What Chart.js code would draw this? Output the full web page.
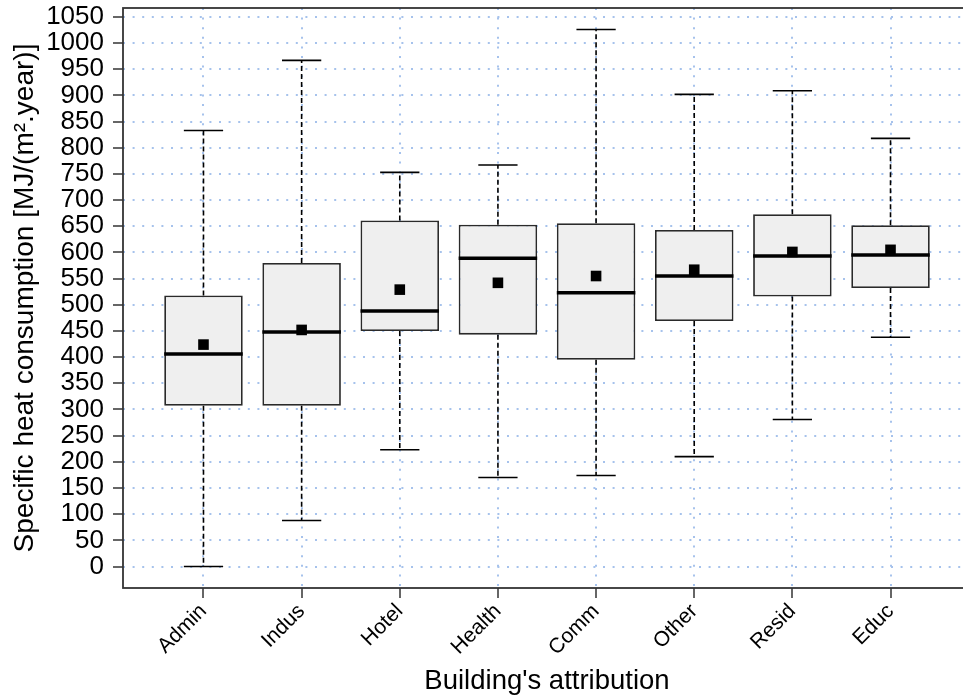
<!DOCTYPE html>
<html>
<head>
<meta charset="utf-8">
<script src="https://cdn.jsdelivr.net/npm/chart.js@4"></script>
<style>
  html, body { margin: 0; padding: 0; background: #fff; overflow: hidden; }
  #wrap { width: 980px; height: 700px; }
</style>
</head>
<body>
<div id="wrap"><canvas id="boxChart" width="980" height="700"></canvas></div>
<script>
// values
const categories = ['Admin', 'Indus', 'Hotel', 'Health', 'Comm', 'Other', 'Resid', 'Educ'];
const whiskerLow  = [0, 88, 223, 170, 174, 210, 281, 438];
const quartile1   = [307, 307, 450, 443, 395, 469, 516, 532];
const medians     = [406, 448, 488, 589, 523, 555, 593, 595];
const quartile3   = [518, 580, 661, 653, 656, 643, 673, 652];
const whiskerHigh = [833, 967, 753, 767, 1026, 902, 909, 818];
const means       = [424, 452, 529, 542, 555, 567, 601, 605];

const FONT = "'Liberation Sans', Arial, Helvetica, sans-serif";

// whiskers, caps and median lines, drawn right after the boxes
const boxParts = {
    id: 'boxParts',
    afterDatasetDraw(chart, args) {
        if (args.meta.type !== 'bar') return;
        const ctx = chart.ctx;
        const x = chart.scales.x, y = chart.scales.y;
        ctx.save();
        ctx.strokeStyle = '#000';
        categories.forEach((cat, i) => {
            const px = x.getPixelForValue(i + 1);
            const capL = x.getPixelForValue(i + 1 - 0.2);
            const capR = x.getPixelForValue(i + 1 + 0.2);
            const boxL = x.getPixelForValue(i + 1 - 0.4);
            const boxR = x.getPixelForValue(i + 1 + 0.4);

            // dashed whiskers
            ctx.lineWidth = 1.6;
            ctx.setLineDash([5, 3]);
            ctx.beginPath();
            ctx.moveTo(px, y.getPixelForValue(quartile3[i]));
            ctx.lineTo(px, y.getPixelForValue(whiskerHigh[i]));
            ctx.moveTo(px, y.getPixelForValue(quartile1[i]));
            ctx.lineTo(px, y.getPixelForValue(whiskerLow[i]));
            ctx.stroke();

            // caps
            ctx.setLineDash([]);
            ctx.beginPath();
            ctx.moveTo(capL, y.getPixelForValue(whiskerHigh[i]));
            ctx.lineTo(capR, y.getPixelForValue(whiskerHigh[i]));
            ctx.moveTo(capL, y.getPixelForValue(whiskerLow[i]));
            ctx.lineTo(capR, y.getPixelForValue(whiskerLow[i]));
            ctx.stroke();

            // median
            ctx.lineWidth = 3.5;
            ctx.beginPath();
            ctx.moveTo(boxL, y.getPixelForValue(medians[i]));
            ctx.lineTo(boxR, y.getPixelForValue(medians[i]));
            ctx.stroke();
        });
        ctx.restore();
    }
};

// plot frame
const frame = {
    id: 'frame',
    afterDraw(chart) {
        const {ctx, chartArea: a} = chart;
        ctx.save();
        ctx.strokeStyle = '#333';
        ctx.lineWidth = 1.8;
        ctx.strokeRect(a.left, a.top, a.right - a.left, a.bottom - a.top);
        ctx.restore();
    }
};

const gridColor = '#a6c2ec';

const ctx = document.getElementById('boxChart').getContext('2d');
new Chart(ctx, {
    type: 'bar',
    data: {
        datasets: [
            {
                type: 'scatter',
                label: 'Mean',
                data: means.map((m, i) => ({x: i + 1, y: m})),
                pointStyle: 'rect',
                pointRadius: 7.5,
                backgroundColor: '#000',
                borderWidth: 0,
                order: 0
            },
            {
                type: 'bar',
                label: 'IQR',
                data: quartile1.map((q, i) => ({x: i + 1, y: [q, quartile3[i]]})),
                backgroundColor: '#efefef',
                borderColor: '#2a2a2a',
                borderWidth: 1.8,
                borderSkipped: false,
                barPercentage: 0.8,
                categoryPercentage: 1.0,
                order: 1
            }
        ]
    },
    options: {
        responsive: false,
        devicePixelRatio: 1,
        animation: false,
        events: [],
        layout: { padding: { top: 8, right: 9, left: 0, bottom: 0 } },
        plugins: {
            legend: { display: false },
            tooltip: { enabled: false }
        },
        scales: {
            x: {
                type: 'linear',
                min: 0.18,
                max: 8.82,
                offset: false,
                afterFit: (s) => {
                    s.height = 112;
                    s.paddingLeft = 0;
                    s.paddingRight = 0;
                },
                grid: {
                    offset: false,
                    color: gridColor,
                    lineWidth: 2,
                    drawTicks: true,
                    tickLength: 10,
                    tickColor: '#333',
                    tickWidth: 1.5,
                    tickBorderDash: []
                },
                border: { display: false, dash: [2, 7.6] },
                ticks: {
                    stepSize: 1,
                    includeBounds: false,
                    autoSkip: false,
                    maxRotation: 45,
                    minRotation: 45,
                    padding: 1,
                    color: '#000',
                    font: { family: FONT, size: 21 },
                    callback: (v) => categories[v - 1]
                },
                title: {
                    display: true,
                    text: "Building's attribution",
                    color: '#000',
                    font: { family: FONT, size: 27.5 },
                    padding: { top: 0, bottom: 2 }
                }
            },
            y: {
                type: 'linear',
                min: -41,
                max: 1067,
                beginAtZero: false,
                afterFit: (s) => {
                    s.width = 123;
                    s.paddingTop = 0;
                    s.paddingBottom = 0;
                },
                grid: {
                    color: gridColor,
                    lineWidth: 2,
                    drawTicks: true,
                    tickLength: 10,
                    tickColor: '#333',
                    tickWidth: 1.5,
                    tickBorderDash: []
                },
                border: { display: false, dash: [2, 7.6] },
                ticks: {
                    stepSize: 50,
                    includeBounds: false,
                    autoSkip: false,
                    padding: 9,
                    color: '#000',
                    font: { family: FONT, size: 26, lineHeight: 1 },
                    callback: (v) => String(v)
                },
                title: {
                    display: true,
                    text: 'Specific heat consumption [MJ/(m².year)]',
                    color: '#000',
                    font: { family: FONT, size: 28 },
                    padding: { top: 8, bottom: 0 }
                }
            }
        }
    },
    plugins: [boxParts, frame]
});
</script>
</body>
</html>
